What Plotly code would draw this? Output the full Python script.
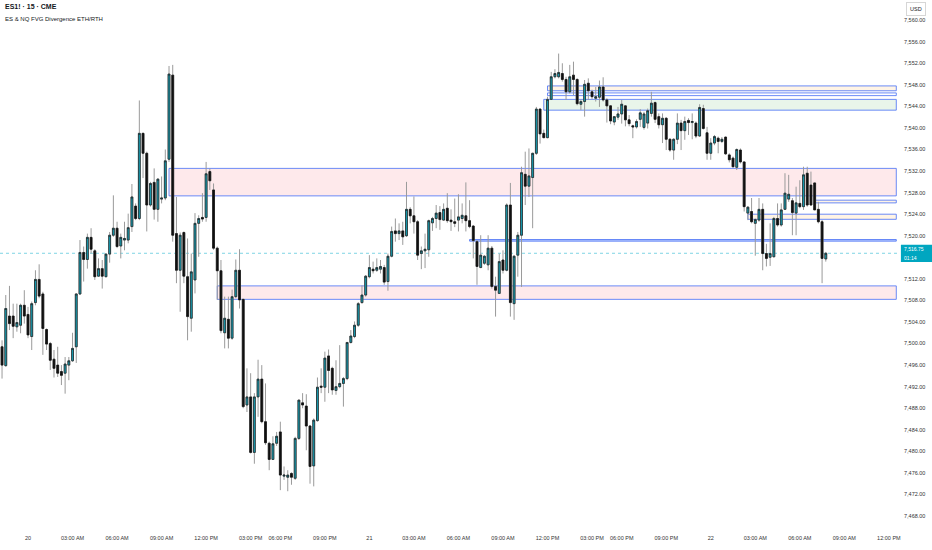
import plotly.graph_objects as go

# ---------------- data (15-minute bars; bar 0 = 20th 00:00) ----------------
first_bar = -7
opens = [
    7499.4, 7495.9, 7505.1, 7505.1, 7503.1, 7503.4, 7507.1,
    7505.4, 7501.3, 7507.6, 7511.9, 7509.2, 7502.6, 7500.0, 7497.1, 7496.0, 7494.8, 7494.5, 7496.0,
    7496.8, 7499.4, 7509.2, 7516.9, 7515.6, 7519.7, 7517.2, 7512.5, 7513.9, 7512.4, 7516.6, 7520.1,
    7521.4, 7518.1, 7519.2, 7519.2, 7521.7,
    7525.5, 7523.2, 7539.0, 7535.3, 7525.7, 7529.9, 7524.9, 7526.8, 7527.0, 7534.2, 7549.8, 7520.4,
    7513.6, 7520.6, 7512.4, 7504.7, 7511.8, 7522.3, 7523.4, 7523.4, 7531.9, 7528.5, 7517.7, 7513.5,
    7502.0, 7504.5, 7501.0, 7508.7, 7513.6,
    7508.2, 7488.6, 7490.1, 7479.8, 7490.1, 7493.4, 7485.5, 7481.5, 7478.5, 7481.5, 7483.6, 7475.4,
    7475.2, 7475.9, 7475.0, 7482.4, 7489.0, 7488.4, 7484.7, 7477.3, 7485.7, 7492.1, 7491.9, 7497.7,
    7495.4, 7491.3, 7492.0, 7492.6, 7493.5, 7500.2, 7501.3, 7503.4, 7507.6, 7509.0, 7512.4,
    7513.8, 7513.6, 7513.8, 7514.1, 7511.5, 7516.2, 7520.9, 7520.4, 7520.9, 7520.0, 7524.9, 7523.7,
    7522.6, 7516.7, 7517.2, 7517.4, 7522.4, 7523.2, 7524.3, 7522.9, 7525.1, 7522.9, 7522.6, 7522.9,
    7523.2, 7523.7, 7522.8, 7521.8, 7518.9, 7514.1, 7514.9, 7514.6, 7517.7, 7510.6,
    7509.3, 7515.5, 7513.6, 7525.7, 7507.4, 7516.4, 7520.1, 7531.4, 7529.2, 7530.8, 7535.3, 7543.5,
    7539.0, 7538.2, 7545.3, 7549.5, 7549.5, 7550.1, 7549.0, 7546.7, 7549.8, 7549.0, 7544.4, 7544.9,
    7548.3, 7546.7, 7545.5, 7545.7, 7547.6, 7545.2, 7544.1, 7541.1, 7542.0, 7542.6, 7544.1, 7541.5,
    7540.4, 7540.2, 7541.6, 7540.1, 7540.9, 7542.7, 7544.7, 7542.1, 7540.6, 7541.8, 7537.9, 7535.9,
    7537.9, 7540.9, 7539.5, 7541.4, 7541.0, 7540.9, 7538.5, 7543.6, 7539.1, 7535.3, 7537.2, 7538.1,
    7537.5, 7538.3, 7535.0, 7534.4, 7532.7, 7535.9, 7533.7, 7524.2, 7524.5, 7522.3, 7522.9, 7524.9,
    7516.7,
    7516.0, 7516.1, 7523.2, 7522.0, 7524.9, 7526.8, 7526.5, 7524.2, 7526.0, 7525.4, 7531.6, 7529.4,
    7529.8, 7524.9, 7522.6, 7515.7,
]
highs = [
    7500.6, 7509.0, 7510.7, 7507.4, 7507.4, 7507.4, 7509.9,
    7506.8, 7507.8, 7513.6, 7514.7, 7509.6, 7502.8, 7500.3, 7498.8, 7499.4, 7496.0, 7497.5, 7497.5,
    7502.0, 7509.3, 7519.2, 7518.0, 7520.4, 7521.4, 7517.5, 7515.8, 7515.5, 7516.7, 7520.7, 7527.5,
    7522.6, 7520.4, 7522.6, 7524.1, 7529.6,
    7526.0, 7545.1, 7539.1, 7535.6, 7530.0, 7532.5, 7530.7, 7531.0, 7536.0, 7551.5, 7551.7, 7527.2,
    7520.6, 7520.8, 7519.5, 7516.7, 7524.2, 7523.8, 7527.9, 7533.7, 7532.5, 7529.7, 7518.0, 7515.5,
    7508.7, 7508.7, 7510.0, 7515.6, 7517.5,
    7508.2, 7495.4, 7494.5, 7490.8, 7497.0, 7496.0, 7492.6, 7481.8, 7482.8, 7483.6, 7485.5, 7477.2,
    7476.5, 7476.1, 7482.7, 7489.6, 7490.8, 7490.6, 7484.9, 7486.1, 7493.7, 7495.4, 7498.5, 7498.9,
    7495.7, 7496.9, 7499.7, 7493.8, 7500.3, 7502.5, 7504.1, 7507.7, 7510.8, 7512.7, 7516.4,
    7515.2, 7515.8, 7515.5, 7514.6, 7516.7, 7521.7, 7523.2, 7522.3, 7522.6, 7530.0, 7525.3, 7527.3,
    7522.9, 7518.0, 7520.4, 7523.0, 7523.5, 7525.7, 7525.5, 7526.0, 7527.9, 7524.9, 7526.9, 7527.7,
    7526.0, 7529.9, 7526.6, 7522.0, 7519.2, 7520.1, 7516.4, 7520.1, 7518.1, 7512.4,
    7516.7, 7517.3, 7526.0, 7529.8, 7516.4, 7520.7, 7532.8, 7535.6, 7536.2, 7535.4, 7543.9, 7543.6,
    7539.7, 7545.8, 7550.4, 7550.9, 7553.8, 7552.0, 7549.5, 7551.7, 7552.3, 7549.2, 7545.3, 7548.9,
    7549.2, 7547.1, 7547.6, 7548.8, 7549.4, 7545.5, 7544.2, 7542.2, 7543.9, 7545.2, 7544.2, 7542.4,
    7540.6, 7541.6, 7543.5, 7543.0, 7543.6, 7546.7, 7544.9, 7542.7, 7542.7, 7542.0, 7538.1, 7538.1,
    7542.7, 7541.5, 7542.1, 7541.8, 7542.7, 7541.2, 7544.4, 7544.3, 7540.2, 7538.1, 7538.7, 7538.4,
    7538.3, 7538.4, 7535.3, 7534.7, 7536.2, 7536.2, 7533.7, 7525.5, 7527.0, 7523.2, 7527.0, 7526.0,
    7518.5,
    7522.3, 7523.5, 7526.0, 7526.0, 7531.6, 7531.3, 7527.0, 7529.1, 7530.3, 7532.8, 7532.8, 7531.9,
    7529.8, 7526.3, 7522.9, 7517.0,
]
lows = [
    7493.5, 7495.7, 7502.5, 7501.0, 7502.2, 7501.9, 7503.7,
    7501.0, 7498.8, 7507.1, 7508.4, 7497.9, 7498.8, 7495.1, 7493.7, 7493.8, 7492.3, 7490.7, 7493.2,
    7496.6, 7496.4, 7509.0, 7511.5, 7513.9, 7516.7, 7511.8, 7512.4, 7510.2, 7512.3, 7515.0, 7519.8,
    7517.7, 7515.8, 7517.3, 7518.6, 7520.7,
    7522.9, 7522.9, 7530.7, 7520.8, 7525.4, 7523.0, 7522.6, 7526.0, 7526.6, 7533.7, 7518.9, 7511.2,
    7505.9, 7511.2, 7500.6, 7502.2, 7509.3, 7516.1, 7522.6, 7522.6, 7528.5, 7517.4, 7508.1, 7501.9,
    7499.1, 7499.1, 7500.7, 7508.4, 7506.5,
    7488.0, 7487.3, 7479.6, 7477.7, 7486.4, 7485.2, 7481.2, 7476.5, 7478.4, 7481.0, 7472.8, 7474.7,
    7472.6, 7473.8, 7474.7, 7482.1, 7488.0, 7480.2, 7474.0, 7473.5, 7485.5, 7490.8, 7489.2, 7490.8,
    7490.5, 7490.5, 7491.7, 7488.3, 7493.2, 7500.0, 7501.0, 7503.1, 7507.4, 7508.7, 7512.1,
    7513.0, 7513.3, 7513.0, 7510.9, 7509.8, 7516.0, 7518.9, 7519.2, 7518.3, 7519.8, 7522.3, 7520.4,
    7515.5, 7513.8, 7514.0, 7516.1, 7520.9, 7521.4, 7521.1, 7522.8, 7522.4, 7520.9, 7521.6, 7520.8,
    7522.3, 7520.8, 7521.4, 7515.8, 7510.9, 7514.0, 7514.6, 7513.6, 7510.2, 7505.0,
    7509.2, 7513.0, 7513.4, 7505.0, 7504.4, 7512.4, 7510.5, 7525.7, 7527.2, 7521.4, 7535.0, 7537.1,
    7538.1, 7538.1, 7545.2, 7549.2, 7549.2, 7548.6, 7545.2, 7546.4, 7546.1, 7544.2, 7543.3, 7542.1,
    7545.2, 7545.3, 7544.9, 7543.9, 7544.9, 7541.0, 7540.7, 7540.5, 7541.5, 7540.8, 7540.3, 7540.3,
    7538.1, 7539.9, 7540.2, 7539.7, 7539.9, 7542.1, 7540.9, 7539.9, 7537.2, 7535.9, 7535.6, 7534.1,
    7537.0, 7535.9, 7537.8, 7538.7, 7537.9, 7538.1, 7538.4, 7539.7, 7534.1, 7534.1, 7536.8, 7535.3,
    7537.2, 7535.0, 7533.6, 7532.7, 7532.2, 7533.4, 7524.5, 7522.9, 7522.3, 7516.3, 7522.6, 7513.6,
    7514.3,
    7514.4, 7516.0, 7521.7, 7521.7, 7524.8, 7526.3, 7520.1, 7520.1, 7525.1, 7524.8, 7525.4, 7525.6,
    7524.8, 7522.3, 7511.2, 7515.2,
]
closes = [
    7496.0, 7506.5, 7503.7, 7503.2, 7503.9, 7507.1, 7505.1,
    7501.6, 7507.4, 7511.9, 7508.8, 7502.8, 7499.9, 7496.9, 7495.4, 7494.5, 7494.1, 7496.2, 7496.8,
    7499.1, 7509.2, 7516.9, 7515.6, 7519.7, 7517.5, 7512.4, 7513.9, 7512.5, 7516.6, 7520.1, 7521.4,
    7518.0, 7519.7, 7519.5, 7521.5, 7527.2,
    7523.2, 7539.0, 7535.3, 7525.7, 7529.7, 7524.9, 7530.5, 7527.0, 7533.9, 7550.0, 7520.1, 7513.6,
    7520.1, 7512.5, 7505.0, 7513.3, 7522.3, 7523.2, 7523.1, 7531.5, 7530.2, 7517.7, 7513.5, 7502.4,
    7504.7, 7501.0, 7508.7, 7513.6, 7508.1,
    7488.3, 7490.1, 7479.8, 7490.1, 7493.4, 7485.5, 7481.6, 7478.5, 7481.4, 7482.8, 7475.6, 7475.6,
    7475.6, 7475.2, 7482.4, 7489.5, 7488.6, 7484.7, 7477.2, 7485.8, 7491.9, 7491.9, 7497.3, 7495.0,
    7491.4, 7492.0, 7492.6, 7493.5, 7500.2, 7501.4, 7503.4, 7507.4, 7509.0, 7512.5, 7514.1,
    7513.5, 7514.1, 7514.3, 7511.4, 7516.2, 7520.8, 7520.4, 7520.9, 7519.8, 7524.9, 7523.7, 7522.6,
    7516.4, 7517.2, 7517.5, 7522.8, 7523.2, 7524.2, 7523.0, 7524.9, 7522.8, 7522.6, 7522.3, 7523.5,
    7523.8, 7522.8, 7521.7, 7519.1, 7514.3, 7516.4, 7516.2, 7517.7, 7510.6, 7509.9,
    7515.2, 7513.6, 7525.7, 7507.6, 7516.2, 7520.1, 7531.7, 7529.2, 7531.1, 7535.3, 7543.5, 7538.9,
    7538.2, 7545.3, 7549.5, 7550.1, 7550.3, 7549.0, 7546.7, 7549.5, 7549.0, 7544.5, 7544.9, 7548.1,
    7546.9, 7545.8, 7545.8, 7547.6, 7545.2, 7544.1, 7541.3, 7542.1, 7542.6, 7544.4, 7541.5, 7540.8,
    7540.2, 7541.2, 7542.8, 7542.6, 7543.2, 7544.6, 7541.6, 7540.6, 7541.8, 7537.9, 7535.9, 7537.9,
    7540.9, 7539.5, 7541.2, 7541.0, 7541.2, 7538.5, 7543.8, 7539.9, 7535.3, 7537.2, 7538.4, 7537.5,
    7537.9, 7535.2, 7534.1, 7532.8, 7536.0, 7533.7, 7525.4, 7525.3, 7522.6, 7523.0, 7524.9, 7516.7,
    7515.8,
    7516.7, 7523.2, 7522.0, 7524.8, 7527.9, 7527.7, 7524.3, 7526.1, 7525.4, 7531.3, 7525.7, 7525.7,
    7524.8, 7522.6, 7515.8, 7516.75,
]
bars = list(range(first_bar, first_bar + len(opens)))
last_price = closes[-1]
countdown = "01:14"

# time axis labels (bar index -> label)
tick_bars = [0, 12, 24, 36, 48, 60, 68, 80, 92, 104, 116, 128, 140, 152, 160, 172, 184, 196, 208, 220, 232]
tick_labels = ["20", "03:00 AM", "06:00 AM", "09:00 AM", "12:00 PM", "03:00 PM", "06:00 PM", "09:00 PM",
               "21", "03:00 AM", "06:00 AM", "09:00 AM", "12:00 PM", "03:00 PM", "06:00 PM", "09:00 PM",
               "22", "03:00 AM", "06:00 AM", "09:00 AM", "12:00 PM"]
price_ticks = list(range(7468, 7561, 4))
price_tick_text = [f"{v:,.2f}" for v in price_ticks]

# FVG zones: start bar, top, bottom, kind
fvg_start = [38, 51, 119, 139, 140, 140, 194, 212]
fvg_top = [7532.5, 7510.7, 7519.3, 7545.3, 7547.8, 7546.5, 7524.0, 7526.6]
fvg_bottom = [7527.4, 7508.2, 7519.0, 7543.3, 7546.9, 7546.0, 7523.05, 7526.1]
fvg_kind = ["bear", "bear", "line", "bull", "warm", "plain", "warm", "warm"]
fvg_end = 234

# ---------------- figure ----------------
TEAL = "#17a2b8"
WICK = "#9a9a9a"
TAG = "#00a6c0"
fills = {"bear": "rgba(242,54,69,0.11)", "bull": "rgba(76,175,80,0.12)",
         "warm": "rgba(255,152,0,0.10)", "plain": "rgba(255,255,255,0)", "line": "rgba(41,98,255,0.3)"}

fig = go.Figure()

# wicks
fig.add_trace(go.Candlestick(
    x=bars, open=opens, high=highs, low=lows, close=closes,
    increasing=dict(line=dict(color=WICK, width=1), fillcolor=WICK),
    decreasing=dict(line=dict(color=WICK, width=1), fillcolor=WICK),
    whiskerwidth=0, hoverinfo="skip", showlegend=False))
# bodies
body_hi = [max(o, c) for o, c in zip(opens, closes)]
body_lo = [min(o, c) for o, c in zip(opens, closes)]
fig.add_trace(go.Candlestick(
    x=bars, open=opens, high=body_hi, low=body_lo, close=closes,
    increasing=dict(line=dict(color="#1b1b1b", width=0.7), fillcolor=TEAL),
    decreasing=dict(line=dict(color="#111111", width=0.7), fillcolor="#111111"),
    whiskerwidth=0, showlegend=False))

shapes = []
for s, t, b, k in zip(fvg_start, fvg_top, fvg_bottom, fvg_kind):
    shapes.append(dict(type="rect", xref="x", yref="y", x0=s, x1=fvg_end, y0=b, y1=t,
                       fillcolor=fills[k], line=dict(color="rgba(70,110,245,0.8)", width=1),
                       layer="below"))
shapes.append(dict(type="line", xref="paper", yref="y", x0=0, x1=1, y0=last_price, y1=last_price,
                   line=dict(color="#7fd4e4", width=1, dash="dot"), layer="below"))
# price tag background on the axis
shapes.append(dict(type="rect", xref="paper", yref="y", x0=1.001, x1=1.036,
                   y0=last_price - 1.6, y1=last_price + 1.6, fillcolor=TAG, line=dict(width=0),
                   layer="above"))

FONT = "Liberation Sans"
annotations = [
    dict(xref="paper", yref="paper", x=0.003, y=0.998, xanchor="left", yanchor="top",
         text="<b>ES1! · 15 · CME</b>", showarrow=False, font=dict(family=FONT, size=7, color="#131722")),
    dict(xref="paper", yref="paper", x=0.003, y=0.973, xanchor="left", yanchor="top",
         text="ES & NQ FVG Divergence ETH/RTH", showarrow=False, font=dict(family=FONT, size=6, color="#131722")),
    dict(xref="paper", yref="paper", x=1, y=0.996, xanchor="left", yanchor="top", xshift=6,
         text="USD", showarrow=False, font=dict(family=FONT, size=5.5, color="#131722"),
         bordercolor="#d6d6d6", borderwidth=1, borderpad=3, bgcolor="white"),
    dict(xref="paper", yref="y", x=1, y=last_price, xanchor="left", yanchor="bottom", xshift=3, yshift=0.5,
         text=f"{last_price:,.2f}", showarrow=False, borderpad=0,
         font=dict(family=FONT, size=5, color="white")),
    dict(xref="paper", yref="y", x=1, y=last_price, xanchor="left", yanchor="top", xshift=3, yshift=-1,
         text=countdown, showarrow=False, borderpad=0,
         font=dict(family=FONT, size=5, color="white")),
]

fig.update_layout(
    width=932, height=550, paper_bgcolor="white", plot_bgcolor="white",
    margin=dict(l=0, r=32, t=0, b=17), showlegend=False,
    boxgap=0.28, shapes=shapes, annotations=annotations,
    xaxis=dict(range=[-7.55, 235.0], rangeslider=dict(visible=False), showgrid=False, zeroline=False,
               tickmode="array", tickvals=tick_bars, ticktext=tick_labels, ticks="", showline=False,
               tickfont=dict(family=FONT, size=5.5, color="#333")),
    yaxis=dict(range=[7464.85, 7563.74], side="right", showgrid=False, zeroline=False,
               tickmode="array", tickvals=price_ticks, ticktext=price_tick_text, ticks="", showline=False,
               ticklabelstandoff=3, tickfont=dict(family=FONT, size=5.5, color="#333")),
)

fig.write_html("out.html", config={"displayModeBar": False},
               post_script="document.body.style.margin='0';document.body.style.overflow='hidden';")
